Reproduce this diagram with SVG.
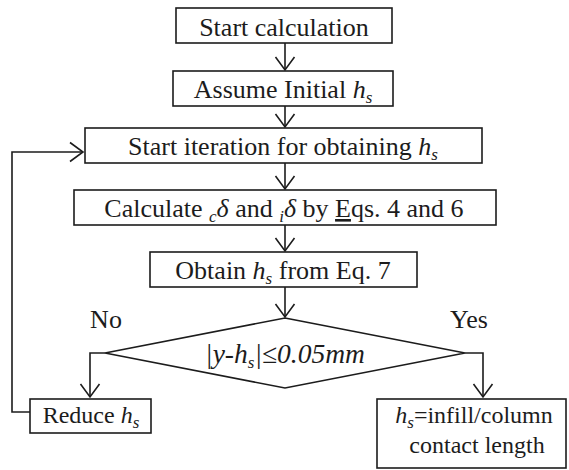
<svg xmlns="http://www.w3.org/2000/svg" width="569" height="470" viewBox="0 0 569 470" font-family="'Liberation Serif', Tinos, 'Times New Roman', 'DejaVu Serif', serif">
<style>
.box{fill:#fff;stroke:#1c1c1c;stroke-width:1.6}
.ln{fill:none;stroke:#1c1c1c;stroke-width:1.6}
text{font-family:'Liberation Serif', Tinos, 'Times New Roman', 'DejaVu Serif', serif;fill:#1c1c1c;font-size:26px}
.c{text-anchor:middle}
.i{font-style:italic}
.sub{font-style:italic;font-size:17px}
.sm{font-size:24px}
.d{font-size:27.5px}
</style>
<defs>
<marker id="arr" viewBox="-14 -11 16 22" refX="0" refY="0" markerWidth="16" markerHeight="22" markerUnits="userSpaceOnUse" orient="auto">
<path d="M-13,-9.5 L0,0 L-13,9.5" fill="none" stroke="#1c1c1c" stroke-width="1.6"/>
</marker>
</defs>
<rect width="569" height="470" fill="#fff"/>
<g id="connectors">
<line class="ln" x1="285" y1="43" x2="285" y2="70" marker-end="url(#arr)"/>
<line class="ln" x1="285" y1="106" x2="285" y2="127" marker-end="url(#arr)"/>
<line class="ln" x1="285" y1="163" x2="285" y2="189" marker-end="url(#arr)"/>
<line class="ln" x1="285" y1="225" x2="285" y2="251" marker-end="url(#arr)"/>
<line class="ln" x1="285" y1="287" x2="285" y2="317" marker-end="url(#arr)"/>
<polyline class="ln" points="105,353 90,353 90,397" marker-end="url(#arr)"/>
<polyline class="ln" points="465,353 483,353 483,397" marker-end="url(#arr)"/>
<polyline class="ln" points="30,412 12,412 12,152 83,152" marker-end="url(#arr)"/>
<text x="106" y="328" class="c">No</text>
<text x="469" y="328" class="c">Yes</text>
</g>
<g id="start">
<rect class="box" x="176" y="8" width="216" height="35"/>
<text x="284" y="36" class="c">Start calculation</text>
</g>
<g id="assume">
<rect class="box" x="173" y="71" width="220" height="35"/>
<text x="283" y="98" class="c">Assume Initial <tspan class="i">h</tspan><tspan class="sub" dy="5">s</tspan></text>
</g>
<g id="iteration">
<rect class="box" x="85" y="128" width="397" height="35"/>
<text x="283" y="155" class="c">Start iteration for obtaining <tspan class="i">h</tspan><tspan class="sub" dy="5">s</tspan></text>
</g>
<g id="calculate">
<rect class="box" x="74" y="190" width="422" height="35"/>
<text x="284" y="217" class="c">Calculate <tspan class="sub" dy="5">c</tspan><tspan class="i" dy="-5">δ</tspan> and <tspan class="sub" dy="5">i</tspan><tspan class="i" dy="-5">δ</tspan> by <tspan text-decoration="underline">E</tspan>qs. 4 and 6</text>
</g>
<g id="obtain">
<rect class="box" x="150" y="252" width="267" height="35"/>
<text x="283" y="279" class="c">Obtain <tspan class="i">h</tspan><tspan class="sub" dy="5">s</tspan><tspan dy="-5"> from Eq. 7</tspan></text>
</g>
<g id="decision">
<polygon class="box" points="285,318 465,353 285,388 105,353"/>
<text x="285" y="363" class="c i d">|y-h<tspan class="sub" dy="5">s</tspan><tspan dy="-5">|≤0.05mm</tspan></text>
</g>
<g id="reduce">
<rect class="box" x="30" y="399" width="121" height="34"/>
<text x="91" y="423" class="c sm">Reduce <tspan class="i">h</tspan><tspan class="sub" dy="5">s</tspan></text>
</g>
<g id="result">
<rect class="box" x="377" y="399" width="189" height="69"/>
<text x="474" y="423" class="c sm"><tspan class="i">h</tspan><tspan class="sub" dy="5">s</tspan><tspan dy="-5">=infill/column</tspan></text>
<text x="477" y="453" class="c sm">contact length</text>
</g>
</svg>
